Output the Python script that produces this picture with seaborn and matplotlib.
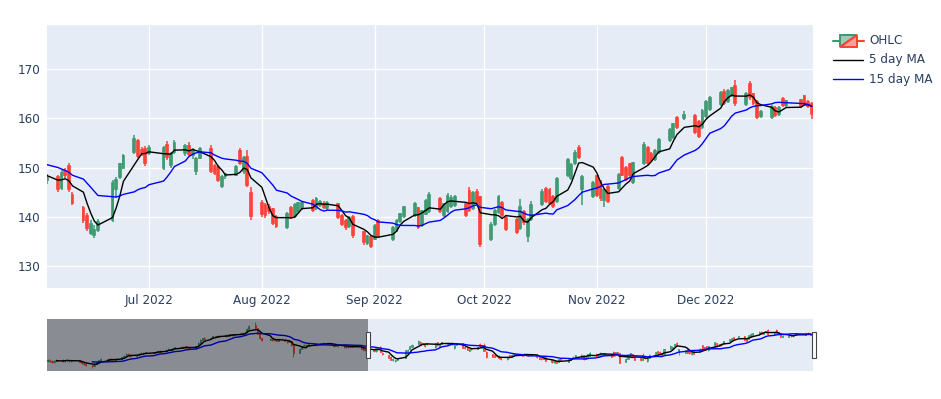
import matplotlib
matplotlib.use("Agg")
import matplotlib.pyplot as plt
import matplotlib.dates as mdates
from matplotlib.patches import Rectangle, Polygon
from matplotlib.lines import Line2D
from matplotlib.colors import to_rgba
import seaborn as sns
import pandas as pd

# --- data (2022 trading days) ---
holidays = ["2022-01-17", "2022-02-21", "2022-04-15", "2022-05-30", "2022-06-20",
            "2022-07-04", "2022-09-05", "2022-11-24", "2022-12-26"]

opens = [
    # Jan
    136.0, 137.4, 136.3, 135.0, 136.6, 137.3, 136.0, 137.2, 136.6, 135.8,
    136.7, 135.6, 134.5, 133.4, 132.0, 131.5, 133.4, 135.0, 136.8, 138.0,
    # Feb
    137.3, 138.5, 137.4, 137.0, 138.4, 140.0, 141.6, 143.4, 142.5, 141.0,
    142.0, 143.3, 144.5, 143.7, 145.0, 144.4, 145.3, 146.4, 145.8,
    # Mar
    147.3, 148.0, 147.6, 148.9, 149.5, 150.3, 149.5, 150.4, 149.2, 148.8,
    151.0, 154.4, 157.2, 158.7, 158.3, 159.5, 160.5, 160.1, 161.4, 160.9,
    162.3, 161.5, 162.5,
    # Apr
    162.0, 162.9, 163.7, 163.2, 164.6, 168.4, 171.5, 168.8, 163.4, 158.7,
    157.3, 158.2, 157.0, 157.7, 156.2, 157.4, 156.0, 155.3, 155.8, 151.8,
    # May
    144.5, 148.2, 150.5, 152.4, 151.5, 152.8, 152.0, 153.3, 152.5, 153.7,
    154.4, 153.7, 152.5, 151.3, 151.9, 151.1, 149.9, 151.0, 150.3, 151.3, 150.2,
    # Jun
    148.7, 147.2, 147.4, 148.0, 145.9, 149.2, 150.2, 144.4, 141.8, 140.1,
    136.8, 136.4, 137.3, 139.3, 145.6, 148.0, 150.0, 153.2, 155.4, 153.6, 153.8,
    # Jul
    152.9, 150.0, 154.6, 150.6, 153.1, 152.9, 154.4, 152.6, 149.4, 152.0,
    153.8, 150.3, 150.1, 146.3, 148.2, 148.6, 153.4, 149.3, 152.0, 144.8,
    # Aug
    142.8, 142.4, 142.0, 141.5, 139.9, 138.0, 141.7, 140.1, 141.3, 141.9,
    143.1, 141.9, 142.4, 142.6, 141.8, 142.5, 140.2, 139.2, 138.2, 139.9,
    136.8, 134.8, 135.8,
    # Sep
    135.6, 139.1, 135.6, 137.3, 139.1, 140.2, 140.3, 141.7, 138.3, 140.6,
    141.3, 143.5, 140.3, 141.3, 142.2, 142.4, 142.6, 145.2, 141.9, 145.0, 143.9,
    # Oct
    135.6, 138.6, 141.0, 142.8, 139.8, 139.3, 137.7, 141.0, 136.2, 139.6,
    142.7, 145.7, 145.4, 144.0, 143.2, 148.4, 147.9, 150.9, 154.0, 145.6, 144.2,
    # Nov
    148.2, 147.0, 143.5, 146.1, 145.8, 151.8, 149.9, 150.6, 147.0, 151.0,
    153.9, 152.8, 151.8, 153.2, 155.6, 156.2, 160.0, 160.0, 160.5, 159.2, 158.2,
    # Dec
    160.5, 161.8, 162.9, 165.3, 163.4, 164.8, 166.5, 162.9, 166.9, 164.8,
    163.2, 160.5, 160.3, 162.1, 160.8, 163.9, 162.6, 163.6, 164.4, 163.3, 162.9,
]

closes = [
    137.2, 136.1, 135.2, 136.4, 137.5, 136.2, 137.0, 136.8, 135.9, 136.9,
    135.4, 134.2, 133.3, 132.1, 131.3, 133.6, 135.2, 136.9, 138.2, 137.1,
    138.4, 137.6, 136.8, 138.3, 140.1, 141.5, 143.2, 142.3, 141.2, 141.9,
    143.4, 144.6, 143.8, 144.9, 144.3, 145.5, 146.2, 145.6, 147.4,
    148.1, 147.5, 148.8, 149.6, 150.2, 149.4, 150.6, 149.1, 148.6, 150.9,
    154.2, 157.3, 158.6, 158.2, 159.4, 160.6, 160.0, 161.3, 160.8, 162.1,
    161.4, 162.6, 161.9,
    162.8, 163.6, 163.1, 164.4, 168.3, 171.2, 169.0, 163.5, 158.9, 157.1,
    158.4, 156.9, 157.8, 156.3, 157.5, 156.2, 155.1, 156.0, 152.0, 144.2,
    148.3, 150.6, 152.3, 151.6, 152.7, 152.1, 153.2, 152.4, 153.6, 154.3,
    153.6, 152.6, 151.2, 152.0, 151.0, 150.0, 150.9, 150.2, 151.2, 150.3, 148.6,
    147.3, 147.6, 148.1, 145.7, 148.9, 148.4, 145.6, 142.9, 139.3, 137.7,
    138.5, 137.4, 138.9, 146.9, 147.5, 150.6, 152.3, 155.8, 152.4, 152.9, 150.9,
    154.0, 153.9, 152.1, 152.7, 155.0, 154.3, 152.8, 153.5, 151.6, 153.8,
    149.4, 149.0, 147.5, 148.0, 148.6, 150.1, 151.0, 151.8, 146.5, 140.2,
    140.6, 140.4, 141.3, 138.8, 138.2, 140.6, 140.0, 142.3, 142.7, 142.8,
    141.5, 143.6, 142.9, 142.1, 142.8, 139.9, 138.6, 137.9, 139.8, 136.3,
    134.9, 136.0, 134.2,
    138.2, 136.2, 137.8, 139.2, 140.5, 141.9, 142.6, 138.0, 141.1, 143.1,
    144.4, 141.3, 142.5, 144.2, 143.8, 144.0, 140.3, 141.4, 144.8, 143.1, 134.6,
    138.4, 141.2, 143.9, 140.3, 137.6, 137.0, 141.9, 138.9, 139.3, 142.3,
    145.0, 143.2, 142.9, 142.2, 147.6, 151.4, 150.4, 153.0, 152.2, 148.1, 146.8,
    144.5, 143.8, 145.5, 143.2, 148.5, 148.6, 147.6, 148.4, 150.8, 154.6,
    150.9, 151.6, 153.3, 155.6, 157.6, 158.7, 158.3, 160.6, 157.2, 156.5, 161.5,
    163.2, 164.0, 165.0, 163.1, 165.4, 166.0, 163.0, 164.9, 164.3, 163.1,
    160.3, 161.2, 162.2, 160.6, 162.1, 162.6, 163.4, 162.5, 162.9, 162.4, 160.9,
]

highs = [
    137.8, 138.0, 136.9, 136.9, 138.1, 137.9, 137.6, 138.0, 137.2, 137.4,
    137.1, 136.0, 135.1, 133.9, 132.6, 134.0, 135.8, 137.4, 138.9, 138.6,
    138.9, 139.2, 138.0, 138.8, 140.6, 142.0, 143.8, 144.3, 143.0, 142.5,
    143.9, 145.1, 145.2, 145.5, 145.6, 146.0, 146.9, 147.0, 147.9,
    148.7, 148.6, 149.3, 150.2, 150.8, 150.9, 151.1, 150.9, 149.8, 151.4,
    154.8, 157.9, 159.2, 159.6, 160.0, 161.2, 161.1, 161.8, 162.0, 162.6,
    162.9, 163.1, 163.2,
    163.4, 164.2, 164.3, 164.9, 168.9, 171.9, 174.6, 169.3, 163.9, 159.3,
    159.0, 158.8, 158.4, 158.2, 158.1, 157.9, 156.6, 156.6, 156.2, 152.3,
    148.9, 151.1, 152.8, 153.0, 153.2, 153.4, 153.8, 153.9, 154.3, 154.9,
    155.0, 154.2, 153.0, 152.6, 152.4, 151.6, 151.4, 151.5, 151.8, 151.8, 150.7,
    149.2, 148.1, 148.8, 148.4, 149.6, 150.0, 151.0, 145.0, 142.2, 140.8,
    139.3, 138.4, 139.5, 147.4, 148.0, 151.0, 152.8, 156.6, 155.7, 154.2, 154.3,
    154.5, 154.3, 155.4, 153.1, 155.5, 154.8, 155.1, 154.0, 152.1, 154.2,
    154.5, 150.8, 150.5, 148.4, 149.0, 150.5, 153.9, 152.3, 153.6, 146.0,
    143.4, 142.9, 142.6, 141.9, 140.4, 141.1, 142.2, 142.8, 143.1, 143.3,
    143.6, 144.1, 143.4, 143.3, 143.2, 142.9, 140.6, 139.6, 140.2, 140.3,
    137.2, 136.4, 136.2,
    138.6, 139.5, 138.2, 139.6, 140.9, 142.3, 143.0, 142.1, 141.5, 143.6,
    145.0, 144.0, 142.9, 144.8, 144.4, 144.5, 143.0, 146.1, 145.3, 145.6, 144.3,
    138.9, 141.6, 144.4, 143.2, 140.2, 139.7, 143.7, 141.4, 139.7, 143.3,
    145.6, 146.1, 145.9, 144.5, 148.1, 151.9, 150.9, 153.5, 154.6, 148.5, 147.2,
    148.6, 147.4, 145.9, 146.5, 148.9, 152.3, 150.4, 151.0, 151.2, 155.1,
    154.3, 153.2, 153.7, 156.0, 158.0, 159.1, 160.4, 161.4, 160.9, 159.6, 161.9,
    163.6, 164.5, 165.5, 165.9, 165.9, 166.4, 167.8, 165.3, 167.6, 165.2,
    163.6, 161.6, 162.6, 162.5, 162.5, 164.3, 163.8, 164.0, 164.8, 163.7, 163.2,
]

lows = [
    135.4, 135.6, 134.6, 134.5, 136.0, 135.7, 135.5, 136.1, 135.3, 135.3,
    134.9, 133.6, 132.7, 131.2, 129.2, 130.8, 132.9, 134.5, 136.2, 136.5,
    136.8, 137.0, 135.9, 136.5, 138.0, 139.5, 141.1, 141.8, 140.6, 140.3,
    141.5, 142.8, 143.2, 143.2, 143.7, 143.9, 144.6, 145.0, 145.3,
    146.8, 146.9, 147.1, 148.3, 148.9, 148.8, 149.0, 148.5, 147.9, 148.3,
    150.6, 154.0, 156.7, 157.6, 157.8, 159.0, 159.4, 159.6, 160.2, 160.3,
    160.9, 161.0, 161.3,
    161.5, 162.3, 162.5, 162.7, 164.1, 168.0, 168.4, 162.8, 158.2, 156.5,
    156.7, 156.2, 156.4, 155.7, 155.8, 155.6, 154.5, 154.7, 151.4, 140.6,
    144.0, 147.8, 150.0, 151.0, 151.0, 151.5, 151.6, 151.8, 152.0, 153.1,
    153.0, 152.0, 150.6, 150.7, 150.4, 149.4, 149.3, 149.6, 149.8, 149.7, 148.0,
    146.8, 146.5, 146.6, 145.1, 145.5, 147.8, 145.1, 142.4, 138.8, 137.1,
    136.3, 135.7, 136.9, 139.0, 143.9, 147.6, 149.7, 152.8, 152.0, 152.3, 150.4,
    152.5, 149.6, 151.6, 149.9, 152.7, 152.4, 152.3, 151.8, 148.5, 151.7,
    148.9, 148.5, 147.0, 145.8, 147.6, 148.2, 150.6, 148.8, 146.0, 139.3,
    140.0, 139.8, 140.6, 138.3, 137.7, 137.6, 139.5, 139.8, 140.9, 141.5,
    141.0, 141.5, 142.0, 141.6, 141.4, 139.5, 138.1, 137.4, 137.8, 135.8,
    134.4, 134.4, 133.8,
    135.3, 135.8, 135.2, 136.9, 138.8, 139.8, 139.9, 137.6, 137.9, 140.3,
    140.9, 140.8, 139.9, 140.9, 141.8, 142.0, 139.9, 141.0, 141.5, 142.7, 134.0,
    135.2, 138.2, 140.6, 139.9, 137.1, 136.5, 137.3, 138.4, 135.0, 139.2,
    142.3, 142.8, 142.4, 141.8, 142.8, 148.0, 147.4, 150.5, 151.8, 142.5, 143.8,
    144.0, 143.3, 142.0, 142.8, 145.4, 148.2, 147.2, 148.0, 146.6, 150.6,
    150.5, 151.2, 151.4, 152.8, 155.2, 155.8, 157.9, 159.6, 156.8, 156.1, 157.8,
    160.1, 161.4, 162.5, 162.7, 163.0, 164.3, 162.5, 162.5, 163.8, 162.7,
    159.9, 160.0, 159.9, 160.2, 160.4, 162.2, 162.2, 162.0, 162.5, 162.0, 159.9,
]

yticks = [130, 140, 150, 160, 170]
view_start, view_end = "2022-06-03", "2022-12-30"

GREEN = "#3D9970"
RED = "#FF4136"
TXT = "#2a3f5f"
BG = "#E5ECF6"

dates = pd.bdate_range("2022-01-03", "2022-12-30")
dates = dates[~dates.isin(pd.to_datetime(holidays))]
df = pd.DataFrame({"date": dates, "open": opens, "high": highs,
                   "low": lows, "close": closes})
df["ma5"] = df["close"].rolling(5).mean()
df["ma15"] = df["close"].rolling(15).mean()

sns.set_theme(style="white")
plt.rcParams["font.family"] = ["DejaVu Sans"]

W, H = 941, 399
fig = plt.figure(figsize=(W / 100, H / 100), dpi=100)
fx = lambda x: x / W
fy = lambda y: 1 - y / H

ax = fig.add_axes([fx(47), fy(288), (813 - 47) / W, (288 - 25) / H])
sl = fig.add_axes([fx(47), fy(371), (813 - 47) / W, (371 - 319) / H])


def draw_candles(a, body_w, lw, wick_lw):
    up = df["close"] >= df["open"]
    for mask, col in [(up, GREEN), (~up, RED)]:
        d = df[mask]
        a.vlines(d["date"], d["low"], d["high"], color=col, lw=wick_lw, zorder=2)
        a.bar(d["date"], (d["close"] - d["open"]).abs() + 0.05,
              bottom=d[["open", "close"]].min(axis=1), width=body_w,
              color=to_rgba(col, 0.5), edgecolor=col, linewidth=lw, zorder=3)


def draw_mas(a, lw):
    sns.lineplot(data=df, x="date", y="ma5", color="black", lw=lw, ax=a, zorder=4)
    sns.lineplot(data=df, x="date", y="ma15", color="blue", lw=lw, ax=a, zorder=4)


# main panel
draw_candles(ax, 0.5, 1.2, 1.1)
draw_mas(ax, 1.0)
ax.set_facecolor(BG)
ax.set_xlim(mdates.date2num(pd.Timestamp(view_start)),
            mdates.date2num(pd.Timestamp(view_end)) + 0.35)
ax.set_ylim(125.6, 178.9)
ax.set_yticks(yticks)
ax.xaxis.set_major_locator(mdates.MonthLocator())
ax.xaxis.set_major_formatter(mdates.DateFormatter("%b %Y"))
ax.grid(True, color="white", lw=1)
ax.set_axisbelow(True)
for s in ax.spines.values():
    s.set_visible(False)
ax.tick_params(length=0, labelsize=8.64, labelcolor=TXT)
ax.tick_params(axis="y", pad=5)
ax.tick_params(axis="x", pad=4)
ax.set_xlabel("")
ax.set_ylabel("")

# range slider
draw_candles(sl, 0.5, 0.6, 0.6)
draw_mas(sl, 1.0)
sl.set_facecolor(BG)
s0 = mdates.date2num(pd.Timestamp("2022-01-03")) - 0.35
s1 = mdates.date2num(pd.Timestamp(view_end)) + 0.35
sl.set_xlim(s0, s1)
sl.set_ylim(126.3, 177.9)
sl.set_xticks([])
sl.set_yticks([])
sl.set_xlabel("")
sl.set_ylabel("")
for s in sl.spines.values():
    s.set_visible(False)
sl.add_patch(Rectangle((s0, 126.3), mdates.date2num(pd.Timestamp(view_start)) - s0,
                       177.9 - 126.3, facecolor=(0, 0, 0, 0.4), lw=0, zorder=10))

# slider handles
for hx in (365.5, 811.5):
    fig.add_artist(Rectangle((fx(hx), fy(358)), 4 / W, 26 / H, transform=fig.transFigure,
                             facecolor="white", edgecolor="#444444", lw=0.8, zorder=20))

# legend
lx0, lx1 = 833, 863
fig.add_artist(Line2D([fx(833), fx(840)], [fy(41), fy(41)], color=GREEN, lw=1.5,
                      transform=fig.transFigure))
fig.add_artist(Line2D([fx(857), fx(864)], [fy(41), fy(41)], color=RED, lw=1.5,
                      transform=fig.transFigure))
fig.add_artist(Polygon([(fx(840), fy(35)), (fx(857), fy(35)), (fx(840), fy(47))],
                       closed=True, facecolor=to_rgba(GREEN, 0.5), edgecolor=GREEN,
                       lw=1.4, transform=fig.transFigure))
fig.add_artist(Polygon([(fx(857), fy(35)), (fx(857), fy(47)), (fx(840), fy(47))],
                       closed=True, facecolor=to_rgba(RED, 0.5), edgecolor=RED,
                       lw=1.4, transform=fig.transFigure))
fig.add_artist(Line2D([fx(lx0), fx(lx1)], [fy(60), fy(60)], color="black", lw=1,
                      transform=fig.transFigure))
fig.add_artist(Line2D([fx(lx0), fx(lx1)], [fy(79), fy(79)], color="blue", lw=1,
                      transform=fig.transFigure))
for label, y in [("OHLC", 41), ("5 day MA", 60), ("15 day MA", 79)]:
    fig.text(fx(869), fy(y), label, color=TXT, fontsize=8.64, va="center", ha="left")

fig.savefig("out.png", dpi=100)
